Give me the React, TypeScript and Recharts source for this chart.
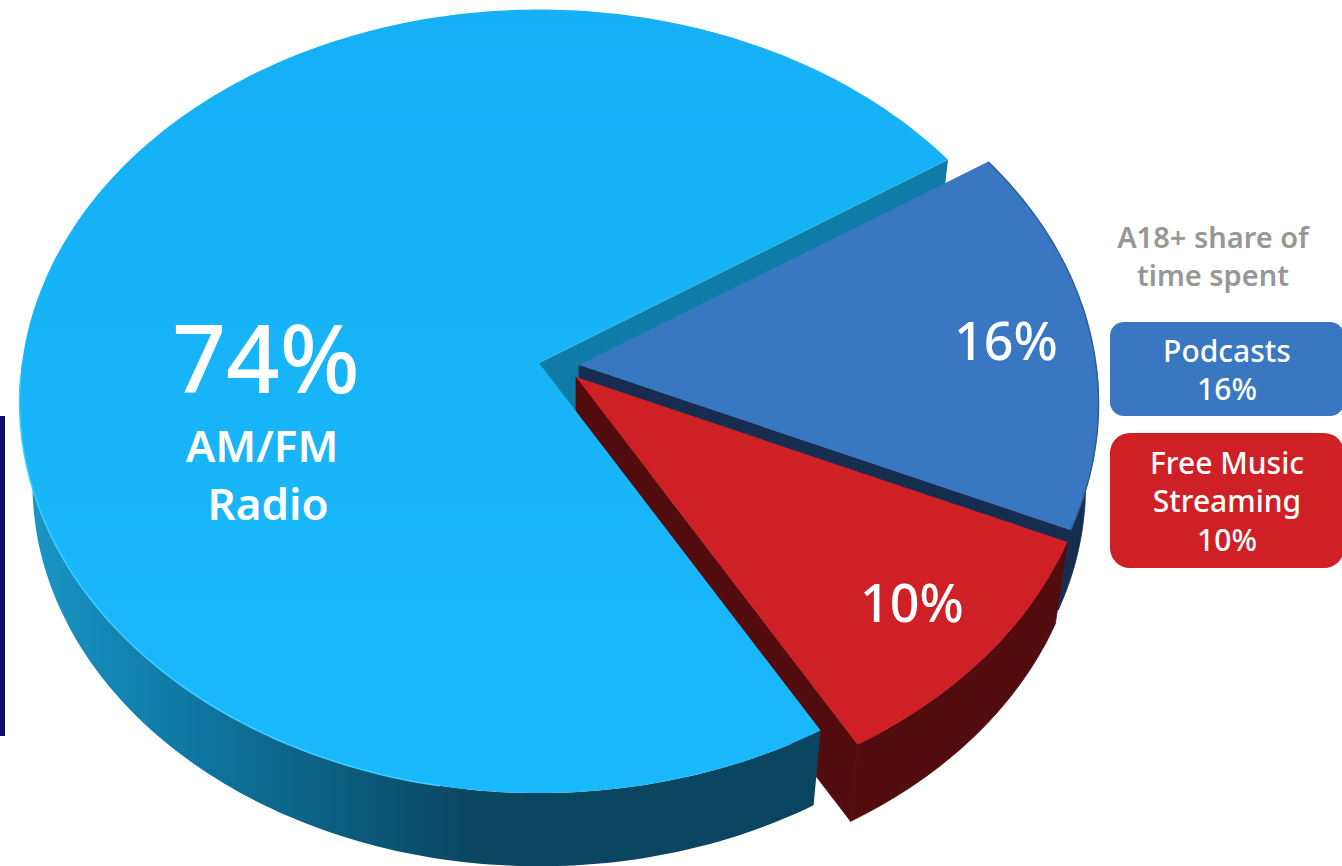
import { PieChart, Pie } from "recharts";

const SOURCES = ["Podcasts", "Free Music Streaming", "AM/FM Radio"];
const SHARES = [16, 10, 74];
const CAPTION = ["A18+ share of", "time spent"];
const LEGEND_LINES = [["Podcasts"], ["Free Music", "Streaming"]];

const pieData = SOURCES.map((name, i) => ({ name, share: SHARES[i] }));

// tilt of the disc: vertical squash and perspective strength
const SQUASH = 388 / 517;
const PERSPECTIVE = 0.0978;
const BOTTOM_SCALE = 0.975;

const LOOK: Record<string, any> = {
  "AM/FM Radio": {
    dx: 0, dy: 0, depth: 84,
    top: "url(#radioTop)", wall: "url(#radioWall)", inner: "#0f7ca8",
  },
  Podcasts: {
    dx: 40, dy: 2, depth: 84,
    top: "#3977c2", wall: "#162d50", inner: "#162d50",
    edge: "#2f5f96",
    labelX: 1006, labelY: 360,
  },
  "Free Music Streaming": {
    dx: 37, dy: 14, depth: 86,
    top: "#cf2026", wall: "#520c0e", inner: "#520c0e",
    labelX: 912, labelY: 622,
  },
};

const rimPoint = (cx: number, cy: number, r: number, deg: number, scale = 1) => {
  const t = (deg * Math.PI) / 180;
  const u = Math.cos(t);
  const v = Math.sin(t);
  const w = 1 + PERSPECTIVE * v;
  return [cx + (r * scale * u) / w, cy - (r * SQUASH * scale * v) / w];
};

const arcPoints = (cx: number, cy: number, r: number, from: number, to: number, scale = 1) => {
  const steps = Math.max(2, Math.ceil(Math.abs(to - from)));
  const pts: number[][] = [];
  for (let i = 0; i <= steps; i++) {
    pts.push(rimPoint(cx, cy, r, from + ((to - from) * i) / steps, scale));
  }
  return pts;
};

const toPath = (pts: number[][], close = true) =>
  pts.map((p, i) => `${i ? "L" : "M"}${p[0].toFixed(1)},${p[1].toFixed(1)}`).join(" ") + (close ? " Z" : "");

// wall dropping from the radial edge at a slice's end angle
const radialWall = (cx: number, cy: number, r: number, deg: number, depth: number) => [
  [cx, cy],
  rimPoint(cx, cy, r, deg),
  rimPoint(cx, cy + depth, r, deg, BOTTOM_SCALE),
  [cx, cy + depth],
];

// the far wall of the big slice sits under every other slice
function BackLayer(props: any) {
  const { name, cx, cy, outerRadius, endAngle } = props;
  if (name !== "AM/FM Radio") return <g />;
  const look = LOOK[name];
  return <path d={toPath(radialWall(cx, cy, outerRadius, endAngle, look.depth))} fill={look.inner} />;
}

function SliceLayer(props: any) {
  const { name, cx, cy, outerRadius: r, startAngle, endAngle, value } = props;
  const look = LOOK[name];
  const ax = cx + look.dx;
  const ay = cy + look.dy;

  // outer wall only on the near half of the disc
  const from = Math.min(startAngle, 0);
  const to = Math.max(endAngle, -180);
  const wallTop = arcPoints(ax, ay, r, from, to);
  const wallBottom = arcPoints(ax, ay + look.depth, r, to, from, BOTTOM_SCALE);
  const face = [[ax, ay], ...arcPoints(ax, ay, r, startAngle, endAngle)];
  const isRadio = name === "AM/FM Radio";

  return (
    <g>
      {!isRadio && (
        <path
          d={toPath(radialWall(ax, ay, r, endAngle, look.depth))}
          fill={look.inner}
          stroke={look.inner}
          strokeWidth={0.8}
        />
      )}
      <path d={toPath([...wallTop, ...wallBottom])} fill={look.wall} stroke={isRadio ? "none" : look.wall} strokeWidth={0.8} />
      <path d={toPath(face)} fill={look.top} />
      {look.edge && (
        <path d={toPath(arcPoints(ax, ay, r, startAngle, endAngle), false)} fill="none" stroke={look.edge} strokeWidth={1.5} />
      )}
      {isRadio && (
        <path d={toPath(arcPoints(ax, ay, r, -100, -178), false)} fill="none" stroke="#3fd0ff" strokeWidth={1.5} />
      )}
      {look.labelX && (
        <text x={look.labelX} y={look.labelY} textAnchor="middle" fill="#fff" fontSize={52} fontWeight={500} fontFamily="'Noto Sans', sans-serif">
          {value}%
        </text>
      )}
      {isRadio && (
        <g fill="#fff" textAnchor="middle" fontFamily="'Noto Sans', sans-serif">
          <text x={266} y={393} fontSize={94} fontWeight={500}>{value}%</text>
          {name.split(" ").map((word: string, i: number) => (
            <text key={word} x={i ? 268 : 262} y={i ? 520 : 462} fontSize={44} fontWeight={600}>
              {word}
            </text>
          ))}
        </g>
      )}
    </g>
  );
}

const legendBoxes = [
  { top: 322, height: 94, radius: 14, color: "#3977c2", lines: LEGEND_LINES[0], value: SHARES[0] },
  { top: 433, height: 135, radius: 20, color: "#cf2026", lines: LEGEND_LINES[1], value: SHARES[1] },
];

export default function App() {
  return (
    <div style={{ position: "absolute", left: 0, top: 0, width: 1342, height: 866, overflow: "hidden", background: "#fff" }}>
      <div style={{ position: "absolute", left: 0, top: 416, width: 5, height: 320, background: "#120a6e" }} />
      <div style={{ position: "absolute", left: 0, top: 0 }}>
        <PieChart width={1342} height={866} margin={{ top: 0, right: 0, bottom: 0, left: 0 }}>
          <defs>
            <linearGradient id="radioTop" x1="0" y1="0" x2="0" y2="1">
              <stop offset="0%" stopColor="#15b0f5" />
              <stop offset="100%" stopColor="#1ab9fc" />
            </linearGradient>
            <linearGradient id="radioWall" gradientUnits="userSpaceOnUse" x1="30" y1="0" x2="820" y2="0">
              <stop offset="0%" stopColor="#1a95c6" />
              <stop offset="18%" stopColor="#107aa6" />
              <stop offset="34%" stopColor="#0c6488" />
              <stop offset="56%" stopColor="#0a4660" />
              <stop offset="100%" stopColor="#0a4660" />
            </linearGradient>
          </defs>
          <Pie
            data={pieData}
            dataKey="share"
            nameKey="name"
            cx={539}
            cy={363}
            outerRadius={517}
            startAngle={33.5}
            endAngle={-326.5}
            stroke="none"
            shape={BackLayer}
            isAnimationActive={false}
          />
          <Pie
            data={pieData}
            dataKey="share"
            nameKey="name"
            cx={539}
            cy={363}
            outerRadius={517}
            startAngle={33.5}
            endAngle={-326.5}
            stroke="none"
            shape={SliceLayer}
            isAnimationActive={false}
          />
        </PieChart>
      </div>

      <div
        style={{
          position: "absolute", left: 1083, top: 218, width: 260, textAlign: "center",
          color: "#979797", fontFamily: "'Noto Sans', sans-serif", fontWeight: 600, fontSize: 29, lineHeight: "38px",
        }}
      >
        {CAPTION.map((line) => <div key={line}>{line}</div>)}
      </div>

      {legendBoxes.map((box) => (
        <div
          key={box.top}
          style={{
            position: "absolute", left: 1110, top: box.top, width: 234, height: box.height,
            boxSizing: "border-box", paddingTop: 2,
            borderRadius: box.radius, background: box.color, color: "#fff", textAlign: "center",
            fontFamily: "'Noto Sans', sans-serif", fontWeight: 500, fontSize: 30, lineHeight: "38.5px",
            display: "flex", flexDirection: "column", justifyContent: "center",
          }}
        >
          {box.lines.map((line) => <div key={line}>{line}</div>)}
          <div>{box.value}%</div>
        </div>
      ))}
    </div>
  );
}
